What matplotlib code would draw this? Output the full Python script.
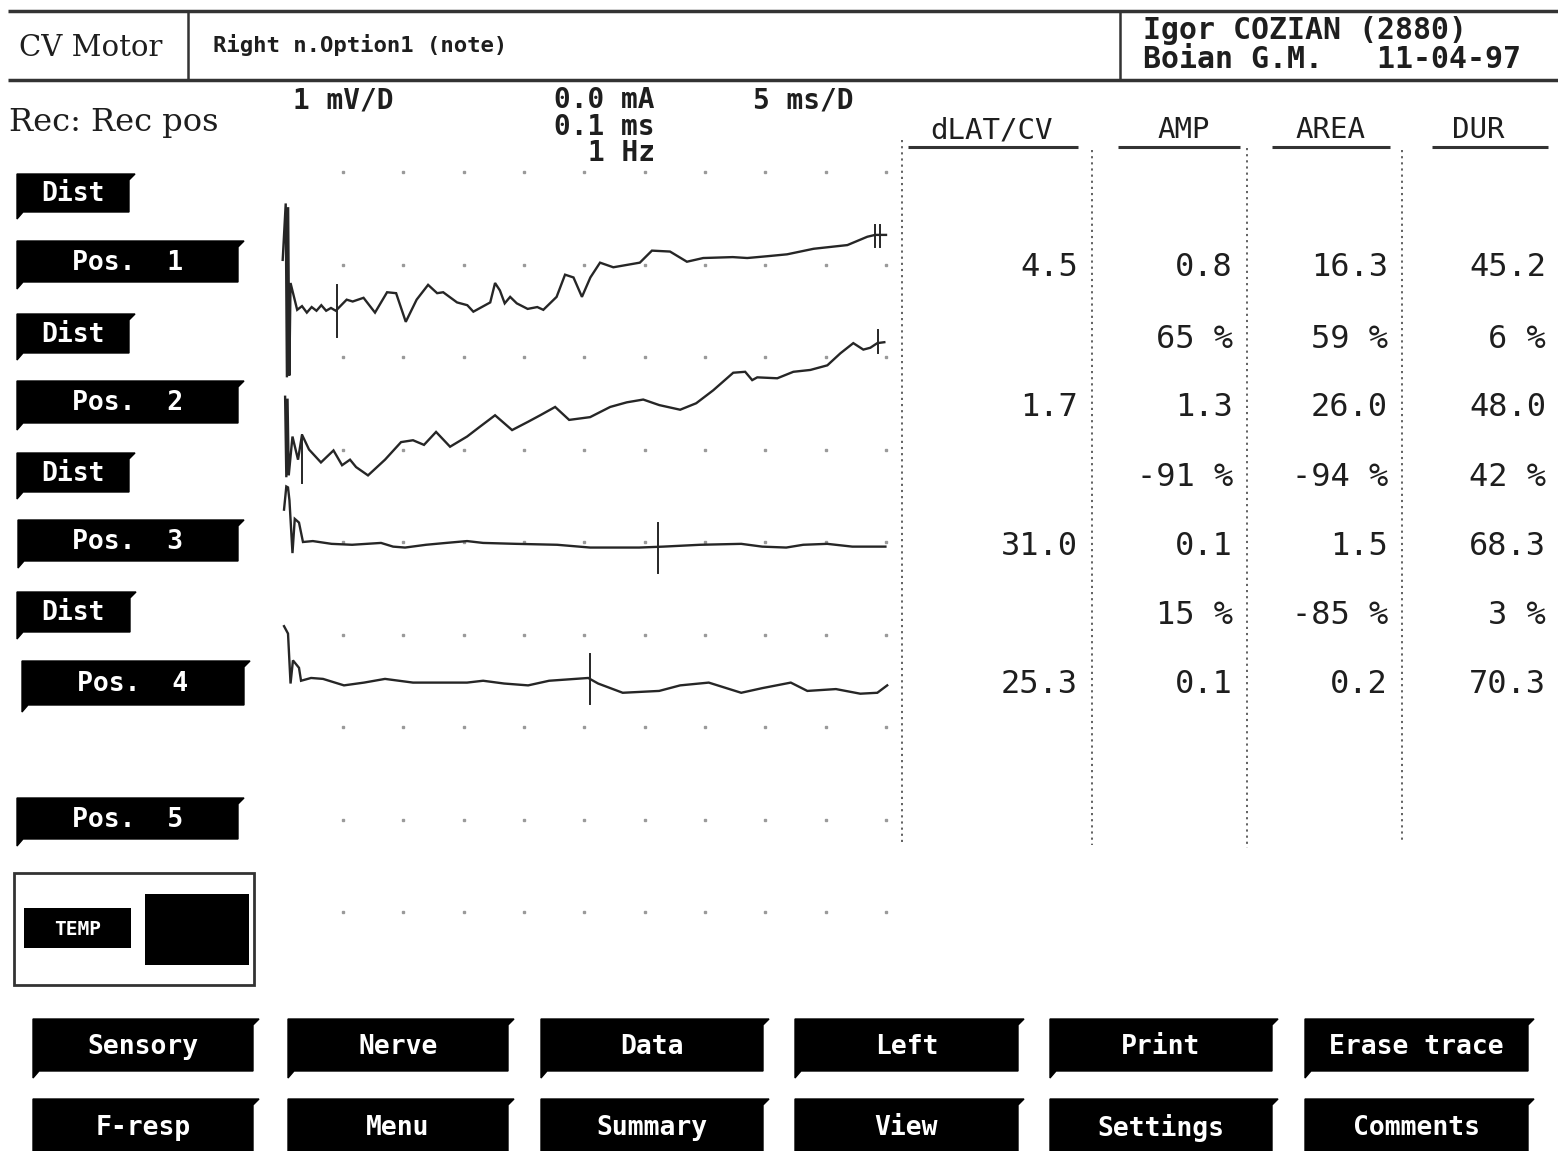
import matplotlib
matplotlib.use("Agg")
import matplotlib.pyplot as plt
from matplotlib.patches import Polygon, Rectangle

# ---------------- data ----------------
title_left = "CV Motor"
title_note = "Right n.Option1 (note)"
patient = "Igor COZIAN (2880)"
doctor_date = "Boian G.M.   11-04-97"
rec_label = "Rec: Rec pos"
gain_label = "1 mV/D"
stim_labels = ["0.0 mA", "0.1 ms", "1 Hz"]
sweep_label = "5 ms/D"

col_headers = ["dLAT/CV", "AMP", "AREA", "DUR"]
dlat_cv = [4.5, 1.7, 31.0, 25.3]
amp = [0.8, 1.3, 0.1, 0.1]
area = [16.3, 26.0, 1.5, 0.2]
dur = [45.2, 48.0, 68.3, 70.3]
amp_pct = [65, -91, 15]
area_pct = [59, -94, -85]
dur_pct = [6, 42, 3]

side_buttons = ["Dist", "Pos.  1", "Dist", "Pos.  2", "Dist", "Pos.  3",
                "Dist", "Pos.  4", "Pos.  5"]
bottom_row1 = ["Sensory", "Nerve", "Data", "Left", "Print", "Erase trace"]
bottom_row2 = ["F-resp", "Menu", "Summary", "View", "Settings", "Comments"]

# traces: (time ms, amplitude mV) relative to each trace baseline
trace1 = [(0.0, 0.05), (0.25, 0.66), (0.35, -1.22), (0.45, 0.62), (0.55, -1.2),
          (0.65, -0.2), (1.2, -0.49), (1.6, -0.45), (2.0, -0.52), (2.4, -0.46),
          (2.8, -0.50), (3.2, -0.44), (3.6, -0.50), (4.0, -0.47), (4.4, -0.50),
          (5.3, -0.38), (5.8, -0.40), (6.7, -0.36), (7.65, -0.52), (8.65, -0.30),
          (9.4, -0.31), (10.2, -0.62), (11.1, -0.38), (12.05, -0.22), (12.8, -0.31),
          (13.3, -0.30), (14.45, -0.41), (15.3, -0.44), (15.8, -0.51), (17.2, -0.41),
          (17.6, -0.20), (18.0, -0.28), (18.4, -0.42), (18.85, -0.35), (19.4, -0.42),
          (20.3, -0.48), (21.1, -0.46), (21.6, -0.49), (22.7, -0.35), (23.4, -0.11),
          (24.1, -0.14), (24.8, -0.35), (25.5, -0.14), (26.3, 0.02), (27.4, -0.03),
          (29.6, 0.02), (30.6, 0.15), (32.1, 0.14), (33.5, 0.03), (34.85, 0.07),
          (37.3, 0.08), (38.5, 0.07), (40.2, 0.09), (41.8, 0.11), (44.0, 0.17),
          (46.8, 0.21), (48.45, 0.30), (49.1, 0.32), (50.0, 0.32)]
trace2 = [(0.2, 0.57), (0.3, -0.30), (0.4, 0.55), (0.5, -0.28), (0.81, 0.14),
          (1.27, -0.11), (1.6, 0.16), (2.18, 0.0), (3.17, -0.14), (4.21, -0.01),
          (4.92, -0.17), (5.58, -0.11), (6.08, -0.19), (7.07, -0.28), (8.48, -0.11),
          (9.81, 0.08), (10.8, 0.10), (11.71, 0.05), (12.71, 0.19), (13.87, 0.03),
          (15.28, 0.14), (16.28, 0.24), (17.6, 0.37), (19.01, 0.21), (20.34, 0.30),
          (21.34, 0.37), (22.58, 0.46), (23.74, 0.32), (25.48, 0.35), (27.14, 0.46),
          (28.52, 0.51), (29.88, 0.54), (31.21, 0.48), (32.94, 0.43), (34.27, 0.50),
          (35.68, 0.64), (37.34, 0.83), (38.33, 0.84), (38.91, 0.75), (39.33, 0.78),
          (40.99, 0.77), (42.32, 0.84), (43.73, 0.86), (45.14, 0.91), (46.22, 1.04),
          (47.29, 1.15), (48.12, 1.08), (48.7, 1.10), (49.28, 1.15), (49.86, 1.16)]
trace3 = [(0.11, 0.35), (0.3, 0.60), (0.44, 0.59), (0.56, 0.45), (0.81, -0.12),
          (1.0, 0.25), (1.35, 0.21), (1.68, 0.0), (2.5, 0.01), (4.05, -0.02),
          (5.75, -0.03), (8.15, -0.01), (9.15, -0.05), (10.14, -0.06), (11.88, -0.03),
          (13.54, -0.01), (15.28, 0.01), (16.61, -0.01), (19.35, -0.02), (22.74, -0.03),
          (25.48, -0.06), (29.54, -0.06), (31.53, -0.05), (34.6, -0.03), (38.0, -0.02),
          (39.74, -0.05), (41.73, -0.06), (43.14, -0.03), (45.13, -0.02), (47.21, -0.05),
          (49.95, -0.05)]
trace4 = [(0.11, 0.59), (0.44, 0.51), (0.65, -0.03), (0.85, 0.22), (1.35, 0.14),
          (1.52, 0.0), (2.35, 0.03), (3.34, 0.02), (5.08, -0.05), (6.74, -0.02),
          (8.48, 0.02), (10.8, -0.02), (15.28, -0.02), (16.61, 0.0), (18.35, -0.03),
          (20.34, -0.05), (22.08, 0.0), (25.32, 0.03), (26.14, -0.03), (28.18, -0.13),
          (31.2, -0.11), (32.94, -0.05), (35.31, -0.02), (38.0, -0.13), (39.74, -0.08),
          (42.11, -0.02), (43.48, -0.11), (45.85, -0.09), (47.87, -0.14), (49.28, -0.13),
          (50.1, -0.05)]
traces = [trace1, trace2, trace3, trace4]
# latency cursors: (ms, top mV, bottom mV) per trace
cursors = [[(4.5, -0.22, -0.78), (49.1, 0.43, 0.19), (49.5, 0.43, 0.19)],
           [(1.6, 0.16, -0.36), (49.3, 1.29, 1.04)],
           [(31.1, 0.21, -0.34)],
           [(25.5, 0.29, -0.25)]]

# ---------------- layout ----------------
W, H = 1558, 1151
fig = plt.figure(figsize=(W / 100, H / 100), dpi=100)
fig.patch.set_facecolor("white")
ax = fig.add_axes([0, 0, 1, 1])
ax.set_xlim(0, W)
ax.set_ylim(H, 0)
ax.axis("off")

INK = "#1e1e1e"
MONO = "DejaVu Sans Mono"


def txt(x, y, s, size, ha="left", color=INK, weight="normal", family=MONO):
    ax.text(x, y, s, fontsize=size, ha=ha, va="center", color=color,
            fontweight=weight, family=family)


def button(x0, y0, x1, y1, label, size=17, ty=None):
    pts = [(x0, y0), (x1 + 6, y0), (x1, y0 + 6), (x1, y1), (x0 + 6, y1), (x0, y1 + 7)]
    ax.add_patch(Polygon(pts, closed=True, facecolor="black", edgecolor="black", lw=1))
    cy = (y0 + y1) / 2 + 1 if ty is None else ty
    txt((x0 + x1) / 2, cy, label, size, ha="center", color="white", weight="bold")


# header frame
ax.plot([8, 1558], [11, 11], color="#333", lw=2.5, solid_capstyle="butt")
ax.plot([8, 1558], [80, 80], color="#333", lw=2.5, solid_capstyle="butt")
ax.plot([188, 188], [11, 80], color="#333", lw=1.8)
ax.plot([1120, 1120], [11, 80], color="#333", lw=1.8)
txt(19, 48, title_left, 21, family="DejaVu Serif")
txt(213, 45, title_note, 16, weight="bold")
txt(1143, 30, patient, 21.5, weight="bold")
txt(1143, 59, doctor_date, 21.5, weight="bold")

txt(9, 122, rec_label, 23, family="DejaVu Serif")
txt(293, 100, gain_label, 20, weight="bold")
for i, s in enumerate(stim_labels):
    txt(655, 100 + i * 26.5, s, 20, ha="right", weight="bold")
txt(753, 100, sweep_label, 20, weight="bold")

# table headers and separators
hdr_x = [992, 1184, 1330, 1478]
ul = [(908, 1078), (1118, 1240), (1272, 1390), (1432, 1548)]
for s, cx, (a, b) in zip(col_headers, hdr_x, ul):
    txt(cx, 130, s, 21, ha="center")
    ax.plot([a, b], [147, 147], color="#333", lw=2.2, solid_capstyle="butt")
for x, y0, y1 in [(902, 140, 845), (1092, 150, 845), (1247, 148, 848), (1402, 150, 840)]:
    ax.plot([x, x], [y0, y1], color="#555", lw=1.3, ls=(0, (1.2, 2.2)))

right_edges = [1078, 1233, 1388, 1546]
pos_rows = [267, 407, 546, 684]
pct_rows = [339, 477, 615]
for col, vals in enumerate([dlat_cv, amp, area, dur]):
    for y, v in zip(pos_rows, vals):
        txt(right_edges[col], y, f"{v:.1f}", 23, ha="right")
for col, vals in zip([1, 2, 3], [amp_pct, area_pct, dur_pct]):
    for y, v in zip(pct_rows, vals):
        txt(right_edges[col], y, f"{v} %", 23, ha="right")

# side buttons
side_boxes = [(17, 174, 129, 212), (17, 241, 238, 282), (17, 314, 129, 353),
              (17, 381, 238, 423), (17, 453, 129, 492), (18, 520, 238, 561),
              (17, 592, 130, 632), (22, 661, 244, 705), (17, 798, 238, 839)]
for (x0, y0, x1, y1), lab in zip(side_boxes, side_buttons):
    button(x0, y0, x1, y1, lab, size=19)

# temperature box
ax.add_patch(Rectangle((14, 873), 240, 112, facecolor="none", edgecolor="#333", lw=2))
ax.add_patch(Rectangle((24, 908), 107, 40, facecolor="black"))
txt(78, 929, "TEMP", 14, ha="center", color="white", weight="bold")
ax.add_patch(Rectangle((145, 894), 104, 71, facecolor="black"))

# bottom buttons
bx = [(33, 253), (288, 508), (541, 763), (795, 1018), (1050, 1272), (1305, 1528)]
for (x0, x1), a, b in zip(bx, bottom_row1, bottom_row2):
    button(x0, 1019, x1, 1071, a, size=19, ty=1047)
    button(x0, 1099, x1, 1160, b, size=19, ty=1128)

# ---------------- traces ----------------
tax = fig.add_axes([282.7 / W, 1 - 912 / H, (886 - 282.7) / W, 740 / H])
tax.set_xlim(0, 50)
tax.set_ylim(-8, 0)
tax.axis("off")
tax.patch.set_alpha(0)

grid_ms = [5 * k for k in range(1, 11)]
grid_rows = [-k for k in range(0, 9)]
gx = [m for r in grid_rows for m in grid_ms]
gy = [r for r in grid_rows for m in grid_ms]
tax.plot(gx, gy, ls="none", marker="s", ms=1.6, color="#9a9a9a", clip_on=False)

offsets = [-1.0, -3.0, -4.0, -5.5]
for tr, off, curs in zip(traces, offsets, cursors):
    xs = [p[0] for p in tr]
    ys = [p[1] + off for p in tr]
    tax.plot(xs, ys, color="#262626", lw=1.7, clip_on=False, solid_joinstyle="miter")
    for (m, a, b) in curs:
        tax.plot([m, m], [a + off, b + off], color="#262626", lw=1.4, clip_on=False)

fig.savefig("out.png", dpi=100, facecolor="white")
